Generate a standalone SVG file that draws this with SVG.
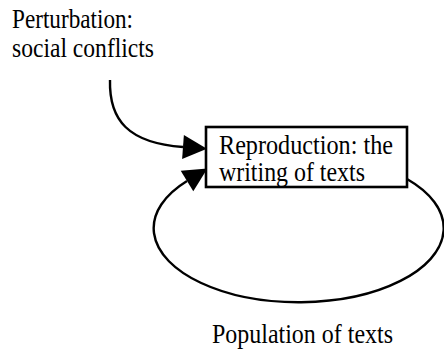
<svg xmlns="http://www.w3.org/2000/svg" width="444" height="349" viewBox="0 0 444 349">
  <style>
    .lbl { font-family: "Liberation Serif", "Times New Roman", serif; font-size: 28px; fill: #000; }
    .edge { fill: none; stroke: #000; stroke-width: 2.4; }
    .box { fill: #fff; stroke: #000; stroke-width: 2.6; }
  </style>
  <defs>
    <marker id="head" markerUnits="userSpaceOnUse" markerWidth="26" markerHeight="26" refX="0" refY="12" orient="auto" overflow="visible">
      <path d="M0,0 L24,12 L0,24 Z" fill="#000"/>
    </marker>
  </defs>

  <!-- connectors -->
  <g id="connectors">
    <!-- perturbation into reproduction -->
    <path class="edge" d="M110,80 C109,120 128,143 183,147" marker-end="url(#head)"/>
    <!-- population loop back into reproduction -->
    <path class="edge" d="M407,179 A145,74 0 1 1 187,181" marker-end="url(#head)"/>
  </g>

  <g id="perturbation">
    <text class="lbl" x="12" y="28" textLength="121" lengthAdjust="spacingAndGlyphs">Perturbation:</text>
    <text class="lbl" x="12" y="57" textLength="142" lengthAdjust="spacingAndGlyphs">social conflicts</text>
  </g>

  <g id="reproduction">
    <rect class="box" x="206" y="127" width="201" height="60"/>
    <text class="lbl" x="219" y="154" textLength="174" lengthAdjust="spacingAndGlyphs">Reproduction: the</text>
    <text class="lbl" x="219" y="181" textLength="146" lengthAdjust="spacingAndGlyphs">writing of texts</text>
  </g>

  <g id="population">
    <text class="lbl" x="212" y="343" textLength="181" lengthAdjust="spacingAndGlyphs">Population of texts</text>
  </g>
</svg>
